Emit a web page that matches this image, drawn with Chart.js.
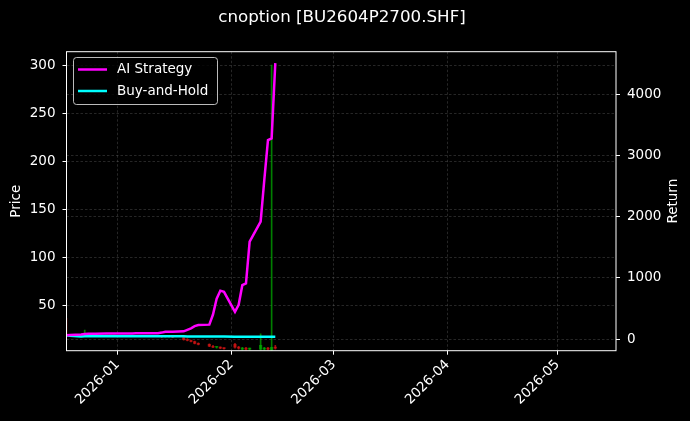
<!DOCTYPE html>
<html>
<head>
<meta charset="utf-8">
<script src="https://cdn.jsdelivr.net/npm/chart.js@4"></script>
<style>
  html, body { margin: 0; padding: 0; background: #000; }
  canvas { display: block; }
</style>
</head>
<body>
<canvas id="optionChart" width="690" height="421"></canvas>
<script>
const dates = [
  '2025-12-18', '2025-12-19', '2025-12-22', '2025-12-23', '2025-12-24', '2025-12-25', '2025-12-26',
  '2025-12-29', '2025-12-30', '2025-12-31', '2026-01-05', '2026-01-06', '2026-01-07', '2026-01-08',
  '2026-01-09', '2026-01-12', '2026-01-13', '2026-01-14', '2026-01-15', '2026-01-16', '2026-01-19',
  '2026-01-20', '2026-01-21', '2026-01-22', '2026-01-23', '2026-01-26', '2026-01-27', '2026-01-28',
  '2026-01-29', '2026-01-30', '2026-02-02', '2026-02-03', '2026-02-04', '2026-02-05', '2026-02-06',
  '2026-02-09', '2026-02-10', '2026-02-11', '2026-02-12', '2026-02-13',
];
const openPrice = [19, 18.5, 18, 18.5, 19, 18.5, 18.5, 18, 18, 18, 18, 17.5, 17.5, 17.5, 17.5, 17.5, 17.5, 17, 17, 17,
  16, 14, 13, 12, 10, 9, 7, 6, 6, 5, 9, 6, 4, 5, 4, 4, 4, 5, 3, 6];
const highPrice = [36, 19, 19, 24, 19.5, 19, 19, 18.5, 18.5, 18.5, 18.5, 18, 18, 18, 18, 18, 18, 17.5, 17.5, 17.5,
  16.5, 15, 13.5, 12.5, 10.5, 9.5, 8, 6.5, 6.5, 5.5, 10, 7, 6, 6, 5, 20, 6, 6, 300, 8];
const lowPrice = [18, 18, 17.5, 18, 18.5, 18, 18, 17.5, 17.5, 17.5, 17.5, 17, 17, 17, 17, 17, 16, 16.5, 16.5, 16,
  13.5, 12.5, 11.5, 9.5, 8.5, 6.5, 5.5, 5, 4.5, 4, 5, 4, 3, 3, 3, 3, 3, 3, 2.5, 4];
const closePrice = [18.5, 18, 18.5, 19, 18.5, 18.5, 18, 18, 18, 18, 17.5, 17.5, 17.5, 17.5, 17.5, 17.5, 17, 17, 17, 16.5,
  14, 13, 12, 10, 9, 7, 6, 6, 5, 4.5, 6, 5, 5, 4, 4, 8, 5, 4, 6, 5];
const aiReturn = [60, 65, 75, 80, 85, 85, 88, 90, 90, 92, 92, 93, 93, 95, 95, 95, 105, 120, 120, 120,
  125, 150, 175, 210, 230, 235, 400, 660, 790, 770, 445, 560, 880, 910, 1590, 1920, 2600, 3250, 3280, 4510];
const bhReturn = [60, 52, 42, 44, 45, 46, 46, 47, 47, 46, 46, 47, 47, 46, 46, 46, 45, 45, 44, 44,
  44, 43, 43, 42, 42, 41, 41, 40, 40, 40, 39, 39, 38, 38, 38, 38, 37, 37, 37, 36];
const monthLabels = ['2026-01', '2026-02', '2026-03', '2026-04', '2026-05'];
const priceTicks = [50, 100, 150, 200, 250, 300];
const returnTicks = [0, 1000, 2000, 3000, 4000];

const FONT = 'DejaVu Sans';

// days counted from 2026-01-01
function dayOf(s) {
  const p = s.split('-').map(Number);
  return (Date.UTC(p[0], p[1] - 1, p[2] || 1) - Date.UTC(2026, 0, 1)) / 86400000;
}

const days = dates.map(dayOf);
const monthDays = monthLabels.map(dayOf);
const isUp = openPrice.map((o, i) => closePrice[i] >= o);
const candleColors = isUp.map(up => up ? 'rgba(0,180,0,0.7)' : 'rgba(220,20,20,0.7)');

const gridStyle = {
  color: 'rgba(120,120,120,0.45)',
  lineWidth: 0.7,
  offset: false,
  tickLength: 4,
  tickColor: '#fff',
  tickWidth: 1,
  tickBorderDash: [],
};
const tickFont = { family: FONT, size: 13.5 };

const bgPlugin = {
  id: 'bg',
  beforeDraw(chart) {
    const ctx = chart.ctx;
    ctx.save();
    ctx.fillStyle = '#000';
    ctx.fillRect(0, 0, chart.width, chart.height);
    ctx.restore();
  },
  afterDraw(chart) {
    const { ctx, chartArea: a } = chart;
    ctx.save();
    // frame
    ctx.strokeStyle = '#fff';
    ctx.lineWidth = 1;
    ctx.strokeRect(a.left, a.top, a.right - a.left, a.bottom - a.top);
    // title
    ctx.fillStyle = '#fff';
    ctx.font = '16.7px "' + FONT + '"';
    ctx.textAlign = 'center';
    ctx.textBaseline = 'middle';
    ctx.fillText('cnoption [BU2604P2700.SHF]', chart.width / 2 - 3, 18);
    // right axis title, reading upwards like the left one
    ctx.save();
    ctx.translate(673, (a.top + a.bottom) / 2);
    ctx.rotate(-Math.PI / 2);
    ctx.font = '13.5px "' + FONT + '"';
    ctx.fillText('Return', 0, 0);
    ctx.restore();
    // legend
    const lx = 73, ly = 57, lw = 144, lh = 47;
    ctx.fillStyle = 'rgba(0,0,0,0.8)';
    ctx.strokeStyle = 'rgba(220,220,220,0.85)';
    ctx.lineWidth = 1;
    ctx.beginPath();
    ctx.roundRect(lx + 0.5, ly + 0.5, lw, lh, 3);
    ctx.fill();
    ctx.stroke();
    const items = [['AI Strategy', 'magenta'], ['Buy-and-Hold', 'cyan']];
    items.forEach(([label, color], i) => {
      const y = ly + 12.5 + i * 21.5;
      ctx.strokeStyle = color;
      ctx.lineWidth = 2.5;
      ctx.beginPath();
      ctx.moveTo(lx + 5, y);
      ctx.lineTo(lx + 34, y);
      ctx.stroke();
      ctx.fillStyle = '#fff';
      ctx.font = '13.5px "' + FONT + '"';
      ctx.textAlign = 'left';
      ctx.fillText(label, lx + 44, y);
    });
    ctx.restore();
  },
};

document.addEventListener('DOMContentLoaded', () => {
  const ctx = document.getElementById('optionChart').getContext('2d');

  new Chart(ctx, {
    type: 'line',
    data: {
      datasets: [
        {
          label: 'AI Strategy',
          data: days.map((d, i) => ({ x: d, y: aiReturn[i] })),
          yAxisID: 'y1',
          borderColor: 'magenta',
          borderWidth: 2.5,
          pointRadius: 0,
          tension: 0,
          order: 0,
        },
        {
          label: 'Buy-and-Hold',
          data: days.map((d, i) => ({ x: d, y: bhReturn[i] })),
          yAxisID: 'y1',
          borderColor: 'cyan',
          borderWidth: 2.5,
          pointRadius: 0,
          tension: 0,
          order: 0,
        },
        {
          type: 'bar',
          label: 'wick',
          data: days.map((d, i) => ({ x: d, y: [lowPrice[i], highPrice[i]] })),
          yAxisID: 'y',
          backgroundColor: candleColors,
          barThickness: 1,
          grouped: false,
          order: 2,
        },
        {
          type: 'bar',
          label: 'body',
          data: days.map((d, i) => ({
            x: d,
            y: [Math.min(openPrice[i], closePrice[i]), Math.max(openPrice[i], closePrice[i])],
          })),
          yAxisID: 'y',
          backgroundColor: candleColors,
          barThickness: 2.5,
          minBarLength: 1,
          grouped: false,
          order: 1,
        },
      ],
    },
    options: {
      responsive: false,
      animation: false,
      layout: { padding: { top: 51.7, left: 0, right: 0, bottom: 0 } },
      plugins: {
        legend: { display: false },
        tooltip: { enabled: false },
        title: { display: false },
      },
      scales: {
        x: {
          type: 'linear',
          min: -13.97,
          max: 135.96,
          offset: false,
          afterBuildTicks: scale => { scale.ticks = monthDays.map(v => ({ value: v })); },
          afterFit: scale => { scale.height = 70.3; },
          grid: gridStyle,
          border: { display: false, dash: [2.5, 2] },
          ticks: {
            color: '#fff',
            font: tickFont,
            autoSkip: false,
            minRotation: 45,
            maxRotation: 45,
            padding: 2,
            callback: v => {
              const i = monthDays.indexOf(v);
              return i >= 0 ? monthLabels[i] : '';
            },
          },
        },
        y: {
          position: 'left',
          min: 2.4,
          max: 313.9,
          afterBuildTicks: scale => { scale.ticks = priceTicks.map(v => ({ value: v })); },
          afterFit: scale => { scale.width = 66.5; },
          grid: gridStyle,
          border: { display: false, dash: [2.5, 2] },
          ticks: { color: '#fff', font: tickFont, padding: 7, callback: v => String(v) },
          title: {
            display: true,
            text: 'Price',
            color: '#fff',
            font: { family: FONT, size: 13.5 },
            padding: { top: 8, bottom: 0 },
          },
        },
        y1: {
          position: 'right',
          min: -191,
          max: 4696,
          afterBuildTicks: scale => { scale.ticks = returnTicks.map(v => ({ value: v })); },
          afterFit: scale => { scale.width = 74; },
          grid: gridStyle,
          border: { display: false, dash: [2.5, 2] },
          ticks: { color: '#fff', font: tickFont, padding: 7, callback: v => String(v) },
        },
      },
    },
    plugins: [bgPlugin],
  });
});
</script>
</body>
</html>
